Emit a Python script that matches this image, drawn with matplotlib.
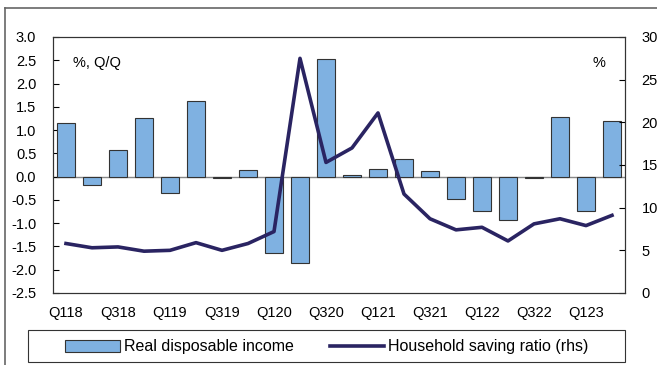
import numpy as np
import matplotlib.pyplot as plt
from matplotlib.lines import Line2D
from matplotlib.patches import Rectangle

plt.rcParams['font.family'] = ['Liberation Sans', 'DejaVu Sans']

# Квартальные данные
quarters = ['Q118', 'Q218', 'Q318', 'Q418', 'Q119', 'Q219', 'Q319', 'Q419',
            'Q120', 'Q220', 'Q320', 'Q420', 'Q121', 'Q221', 'Q321', 'Q421',
            'Q122', 'Q222', 'Q322', 'Q422', 'Q123', 'Q223']
income = [1.15, -0.17, 0.57, 1.25, -0.35, 1.62, -0.02, 0.14,
          -1.65, -1.86, 2.53, 0.03, 0.16, 0.37, 0.12, -0.48,
          -0.73, -0.93, -0.04, 1.28, -0.73, 1.19]  # реальный располагаемый доход, % к/к
saving = [5.8, 5.3, 5.4, 4.9, 5.0, 5.9, 5.0, 5.8,
          7.2, 27.5, 15.3, 17.0, 21.1, 11.6, 8.7, 7.4,
          7.7, 6.1, 8.1, 8.7, 7.9, 9.1]  # норма сбережений, %

bar_color = '#7fb1e1'
line_color = '#2a2462'

fig = plt.figure(figsize=(6.57, 3.65), dpi=100)
ax = fig.add_axes([53 / 657, 1 - 293 / 365, 572 / 657, 256 / 365])
x = np.arange(len(quarters))

ax.bar(x, income, width=0.67, color=bar_color, edgecolor='#333333', linewidth=0.8,
       label='Real disposable income', zorder=2)
ax.axhline(0, color='#888888', linewidth=1, zorder=1)
ax.set_ylim(-2.5, 3.0)
ax.set_yticks(np.arange(-2.5, 3.01, 0.5))
ax.set_yticklabels([f'{v:.1f}' for v in np.arange(-2.5, 3.01, 0.5)])
ax.set_xlim(-0.5, len(quarters) - 0.5)
ax.set_xticks(x[::2])
ax.set_xticklabels(quarters[::2])
ax.tick_params(axis='y', direction='in', length=4, labelsize=10.5, pad=12)
ax.tick_params(axis='x', length=0, labelsize=10.5, pad=9)

ax2 = ax.twinx()
ax2.plot(x, saving, color=line_color, linewidth=2.6, label='Household saving ratio (rhs)', zorder=3)
ax2.set_ylim(0, 30)
ax2.set_yticks(np.arange(0, 31, 5))
ax2.tick_params(axis='y', direction='in', length=4, labelsize=10.5, pad=12)

for a in (ax, ax2):
    for s in a.spines.values():
        s.set_color('#333333')
        s.set_linewidth(0.8)

ax.text(0.035, 0.9, '%, Q/Q', transform=ax.transAxes, fontsize=10.5, va='center')
ax2.text(0.965, 0.9, '%', transform=ax.transAxes, fontsize=10.5, va='center', ha='right')

# Легенда под графиком, рамка рисуется отдельно
handles = [ax.patches[0], ax2.lines[0]]
labels = ['Real disposable income', 'Household saving ratio (rhs)']
fig.legend(handles, labels, loc='center', ncol=2, fontsize=11.5,
           bbox_to_anchor=(327 / 657, 1 - 347 / 365), frameon=False,
           handlelength=3.4, handletextpad=0.25, columnspacing=2.3)
fig.add_artist(Rectangle((28 / 657, 1 - 362 / 365), 597 / 657, 32 / 365,
                         transform=fig.transFigure, fill=False,
                         edgecolor='#333333', linewidth=0.8))

# Внешняя рамка
fig.add_artist(Line2D([5 / 657, 5 / 657], [0, 1 - 8 / 365], transform=fig.transFigure,
                      color='#666666', linewidth=1.2))
fig.add_artist(Line2D([5 / 657, 1], [1 - 8 / 365, 1 - 8 / 365], transform=fig.transFigure,
                      color='#666666', linewidth=1.2))

fig.savefig('out.png', dpi=100)
